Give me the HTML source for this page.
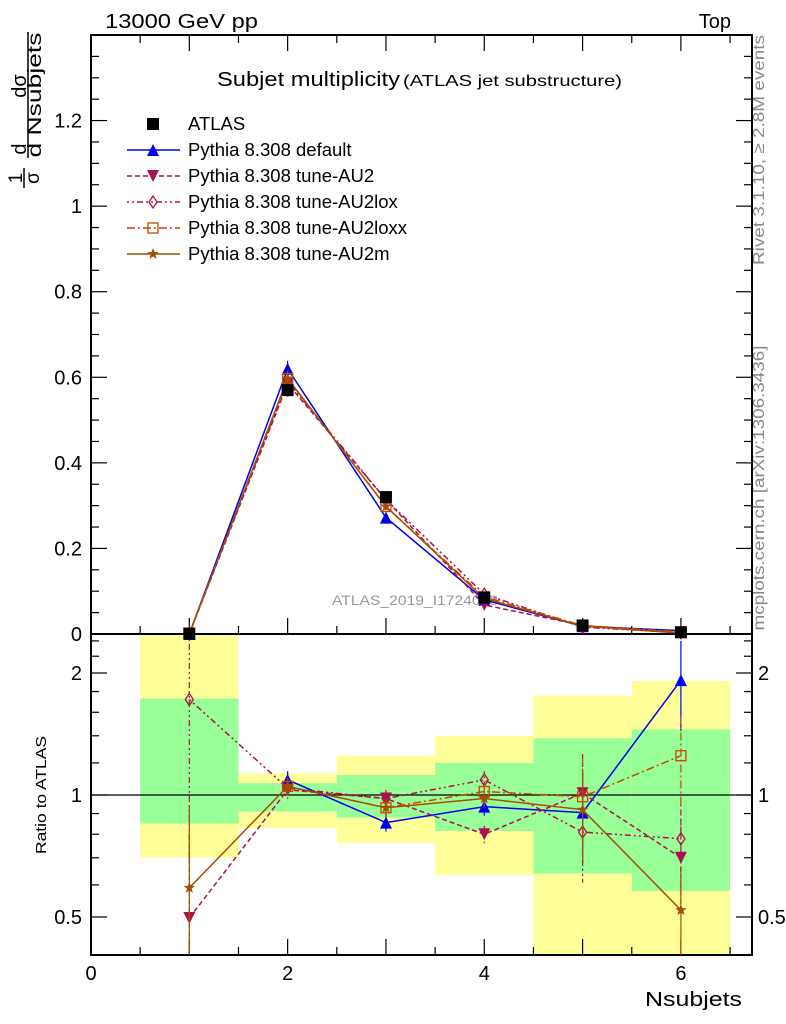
<!DOCTYPE html>
<html><head><meta charset="utf-8">
<style>
body{margin:0;background:#fff;}
svg{display:block;font-family:"Liberation Sans",sans-serif;}
</style></head>
<body>
<svg id="chart" width="786" height="1024" viewBox="0 0 786 1024" xmlns="http://www.w3.org/2000/svg">
<text x="105" y="28" font-size="20" textLength="153" lengthAdjust="spacingAndGlyphs">13000 GeV pp</text>
<text x="731" y="28" font-size="20" text-anchor="end">Top</text>
<text x="217" y="86" font-size="20" textLength="183" lengthAdjust="spacingAndGlyphs">Subjet multiplicity</text>
<text x="403" y="86" font-size="16" textLength="219" lengthAdjust="spacingAndGlyphs">(ATLAS jet substructure)</text>
<g transform="translate(764,150) rotate(-90)"><text x="0" y="0" font-size="16" fill="#888" text-anchor="middle" textLength="230" lengthAdjust="spacingAndGlyphs">Rivet 3.1.10, ≥ 2.8M events</text></g>
<g transform="translate(764,488) rotate(-90)"><text x="0" y="0" font-size="16" fill="#888" text-anchor="middle" textLength="285" lengthAdjust="spacingAndGlyphs">mcplots.cern.ch [arXiv:1306.3436]</text></g>
<g transform="rotate(-90)">
<text x="-86" y="26" font-size="20" text-anchor="middle">dσ</text>
<line x1="-32" y1="28" x2="-158" y2="28" stroke="#000" stroke-width="1.5"/>
<text x="-95" y="41" font-size="19" text-anchor="middle" textLength="125" lengthAdjust="spacingAndGlyphs">d Nsubjets</text>
<text x="-149" y="26" font-size="20" text-anchor="middle">d</text>
<text x="-178" y="22" font-size="19" text-anchor="middle">1</text>
<line x1="-168" y1="24" x2="-188" y2="24" stroke="#000" stroke-width="1.5"/>
<text x="-178" y="39" font-size="19" text-anchor="middle">σ</text>
</g>
<g transform="translate(46,795) rotate(-90)"><text x="0" y="0" font-size="15" text-anchor="middle" textLength="118" lengthAdjust="spacingAndGlyphs">Ratio to ATLAS</text></g>
<text x="742" y="1006" font-size="20" text-anchor="end" textLength="97" lengthAdjust="spacingAndGlyphs">Nsubjets</text>
<text x="332" y="605" font-size="14" fill="#999" textLength="166" lengthAdjust="spacingAndGlyphs">ATLAS_2019_I1724098</text>
<g id="bands"></g>
<g id="frames"></g>
<g id="series"></g>
<g id="legend"></g>
</svg>
<script>
const categories = [1,2,3,4,5,6];
const dataVals = [0.001,0.57,0.32,0.085,0.02,0.004];
const dataErr = [0.001,0.015,0.012,0.004,0.002,0.001];
const defaultVals = [0.0,0.62,0.272,0.080,0.018,0.008];
const au2Vals = [0.0005,0.585,0.314,0.068,0.020,0.0028];
const au2loxVals = [0.0017,0.59,0.314,0.093,0.016,0.0031];
const au2loxxVals = [0.001,0.597,0.298,0.087,0.0198,0.005];
const au2mVals = [0.0006,0.597,0.298,0.083,0.0184,0.0021];
const defaultRatio = [null,1.09,0.855,0.936,0.905,1.92];
const au2Ratio = [0.497,1.03,0.98,0.80,1.01,0.70];
const au2loxRatio = [1.72,1.04,0.98,1.09,0.81,0.78];
const au2loxxRatio = [null,1.05,0.93,1.02,0.99,1.25];
const au2mRatio = [0.59,1.05,0.93,0.98,0.92,0.52];
const bandYellowHi = [3.0,1.13,1.25,1.40,1.76,1.91];
const bandYellowLo = [0.70,0.83,0.76,0.635,0.3,0.3];
const bandGreenHi = [1.73,1.07,1.12,1.20,1.38,1.45];
const bandGreenLo = [0.85,0.91,0.88,0.815,0.64,0.58];
const xTicks = [0,2,4,6];
const yTicks = [0,0.2,0.4,0.6,0.8,1,1.2];
const rTicks = [0.5,1,2];

const NS="http://www.w3.org/2000/svg";
const L=91,R=752,T=35,B=634,RB=955;
const X=v=>L+(v-0)/(6.723)*(R-L);
const Y=v=>B-v/1.4*(B-T);
const RY=r=>Math.min(RB,Math.max(B,795-122*Math.log2(r)));
function el(tag,attrs,parent){const e=document.createElementNS(NS,tag);for(const k in attrs)e.setAttribute(k,attrs[k]);parent.appendChild(e);return e;}
const bands=document.getElementById('bands'),frames=document.getElementById('frames'),series=document.getElementById('series'),legend=document.getElementById('legend');

categories.forEach((c,i)=>{
  const y1=el('rect',{x:X(c-0.5),y:RY(bandYellowHi[i]),width:X(c+0.5)-X(c-0.5),height:RY(bandYellowLo[i])-RY(bandYellowHi[i]),fill:'#ffff99'},bands);
  
  
  const g1=el('rect',{x:X(c-0.5),y:RY(bandGreenHi[i]),width:X(c+0.5)-X(c-0.5),height:RY(bandGreenLo[i])-RY(bandGreenHi[i]),fill:'#99ff99'},bands);
  
  
});
const f1=el('rect',{x:L,y:T,width:R-L,height:B-T,fill:'none',stroke:'#000','stroke-width':2},frames);


const f2=el('rect',{x:L,y:B,width:R-L,height:RB-B,fill:'none',stroke:'#000','stroke-width':2},frames);


el('line',{x1:L,x2:R,y1:795,y2:795,stroke:'#000','stroke-width':1.3},frames);
for(let v=0;v<=6.5;v+=0.5){
  const maj=Number.isInteger(v);const len=maj?16:8;
  [B,RB].forEach(b=>{el('line',{x1:X(v),x2:X(v),y1:b,y2:b-len,stroke:'#000','stroke-width':1.2},frames);});
  el('line',{x1:X(v),x2:X(v),y1:T,y2:T+len,stroke:'#000','stroke-width':1.2},frames);
}
xTicks.forEach(v=>{const t=el('text',{x:X(v),y:980,'font-size':20,'text-anchor':'middle'},frames);t.textContent=v;

});
for(let v=0;v<=1.4001;v+=0.05){const maj=Math.abs(v/0.2-Math.round(v/0.2))<1e-6;const len=maj?16:8;
 el('line',{x1:L,x2:L+len,y1:Y(v),y2:Y(v),stroke:'#000','stroke-width':1.2},frames);
 el('line',{x1:R,x2:R-len,y1:Y(v),y2:Y(v),stroke:'#000','stroke-width':1.2},frames);}
yTicks.forEach(v=>{const t=el('text',{x:82,y:Y(v)+7,'font-size':20,'text-anchor':'end'},frames);t.textContent=String(+v.toFixed(1));

});
[0.4,0.5,0.6,0.7,0.8,0.9,1,1.2,1.4,1.6,1.8,2,2.2,2.4].forEach(v=>{const maj=rTicks.includes(v);const len=maj?16:8;const y=795-122*Math.log2(v);if(y<B||y>RB)return;
 el('line',{x1:L,x2:L+len,y1:y,y2:y,stroke:'#000','stroke-width':1.2},frames);
 el('line',{x1:R,x2:R-len,y1:y,y2:y,stroke:'#000','stroke-width':1.2},frames);});
rTicks.forEach(v=>{const y=795-122*Math.log2(v);
 const t=el('text',{x:82,y:y+7,'font-size':20,'text-anchor':'end'},frames);t.textContent=v;
 
 
 const t2=el('text',{x:758,y:y+7,'font-size':20},frames);t2.textContent=v;
 
 });

function marker(kind,x,y,col,parent){
  const s=6;
  if(kind==='sq')return el('rect',{x:x-s,y:y-s,width:2*s,height:2*s,fill:'#000'},parent);
  if(kind==='up')return el('polygon',{points:`${x},${y-s} ${x-s},${y+s} ${x+s},${y+s}`,fill:col},parent);
  if(kind==='down')return el('polygon',{points:`${x},${y+s} ${x-s},${y-s} ${x+s},${y-s}`,fill:col},parent);
  if(kind==='dia')return el('polygon',{points:`${x},${y-s} ${x-4},${y} ${x},${y+s} ${x+4},${y}`,fill:'none',stroke:col,'stroke-width':1.3},parent);
  if(kind==='osq')return el('rect',{x:x-5,y:y-5,width:10,height:10,fill:'none',stroke:col,'stroke-width':1.3},parent);
  if(kind==='star'){let p=[];for(let k=0;k<10;k++){const r=k%2?2.5:6;const a=-Math.PI/2+k*Math.PI/5;p.push((x+r*Math.cos(a))+','+(y+r*Math.sin(a)));}return el('polygon',{points:p.join(' '),fill:col},parent);}
}
const mc=[
 {name:'Pythia 8.308 default',key:'default',col:'#0000ee',dash:'',m:'up',main:defaultVals,ratio:defaultRatio},
 {name:'Pythia 8.308 tune-AU2',key:'au2',col:'#aa1050',dash:'5,3',m:'down',main:au2Vals,ratio:au2Ratio},
 {name:'Pythia 8.308 tune-AU2lox',key:'au2lox',col:'#b01040',dash:'2,3,2,3,6,3',m:'dia',main:au2loxVals,ratio:au2loxRatio},
 {name:'Pythia 8.308 tune-AU2loxx',key:'au2loxx',col:'#cc4400',dash:'8,3,2,3',m:'osq',main:au2loxxVals,ratio:au2loxxRatio},
 {name:'Pythia 8.308 tune-AU2m',key:'au2m',col:'#a05000',dash:'',m:'star',main:au2mVals,ratio:au2mRatio}
];
mc.forEach(s=>{
  const g=el('g',{},series);
  
  
  const pts=categories.map((c,i)=>X(c)+','+Y(s.main[i])).join(' ');
  el('polyline',{points:pts,fill:'none',stroke:s.col,'stroke-width':1.5,'stroke-dasharray':s.dash},g);
  categories.forEach((c,i)=>{
    const e=s.main[i]*0.03;
    el('line',{x1:X(c),x2:X(c),y1:Y(s.main[i]+e),y2:Y(s.main[i]-e),stroke:s.col,'stroke-width':1.2},g);
    marker(s.m,X(c),Y(s.main[i]),s.col,g);});
  const rp=[];categories.forEach((c,i)=>{if(s.ratio[i]!=null)rp.push(X(c)+','+(795-122*Math.log2(s.ratio[i])));});
  el('polyline',{points:rp.join(' '),fill:'none',stroke:s.col,'stroke-width':1.5,'stroke-dasharray':s.dash},g);
  categories.forEach((c,i)=>{if(s.ratio[i]==null)return;const y=795-122*Math.log2(s.ratio[i]);
    const e=(i===0?0.6:(i>=4?0.25:0.05));
    const yh=Math.max(B,795-122*Math.log2(s.ratio[i]*(1+e))),yl=Math.min(RB,795-122*Math.log2(Math.max(0.05,s.ratio[i]*(1-e))));
    el('line',{x1:X(c),x2:X(c),y1:yh,y2:yl,stroke:s.col,'stroke-width':1.2,'stroke-dasharray':s.dash},g);
    marker(s.m,X(c),y,s.col,g);});
});
const dg=el('g',{},series);


categories.forEach((c,i)=>{el('line',{x1:X(c),x2:X(c),y1:Y(dataVals[i]+dataErr[i]),y2:Y(dataVals[i]-dataErr[i]),stroke:'#000','stroke-width':1.5},dg);
 marker('sq',X(c),Y(dataVals[i]),'#000',dg);});
const lg=[{name:'ATLAS',m:'sq',col:'#000',dash:null}].concat(mc);
lg.forEach((s,k)=>{const y=124+26*k;
 const g=el('g',{},legend);
 
 
 if(s.dash!==null)el('line',{x1:127,x2:180,y1:y,y2:y,stroke:s.col,'stroke-width':1.5,'stroke-dasharray':s.dash},g);
 marker(s.m,153,y,s.col,g);
 const t=el('text',{x:188,y:y+6,'font-size':18.5},g);t.textContent=s.name;});
</script>
</body></html>
